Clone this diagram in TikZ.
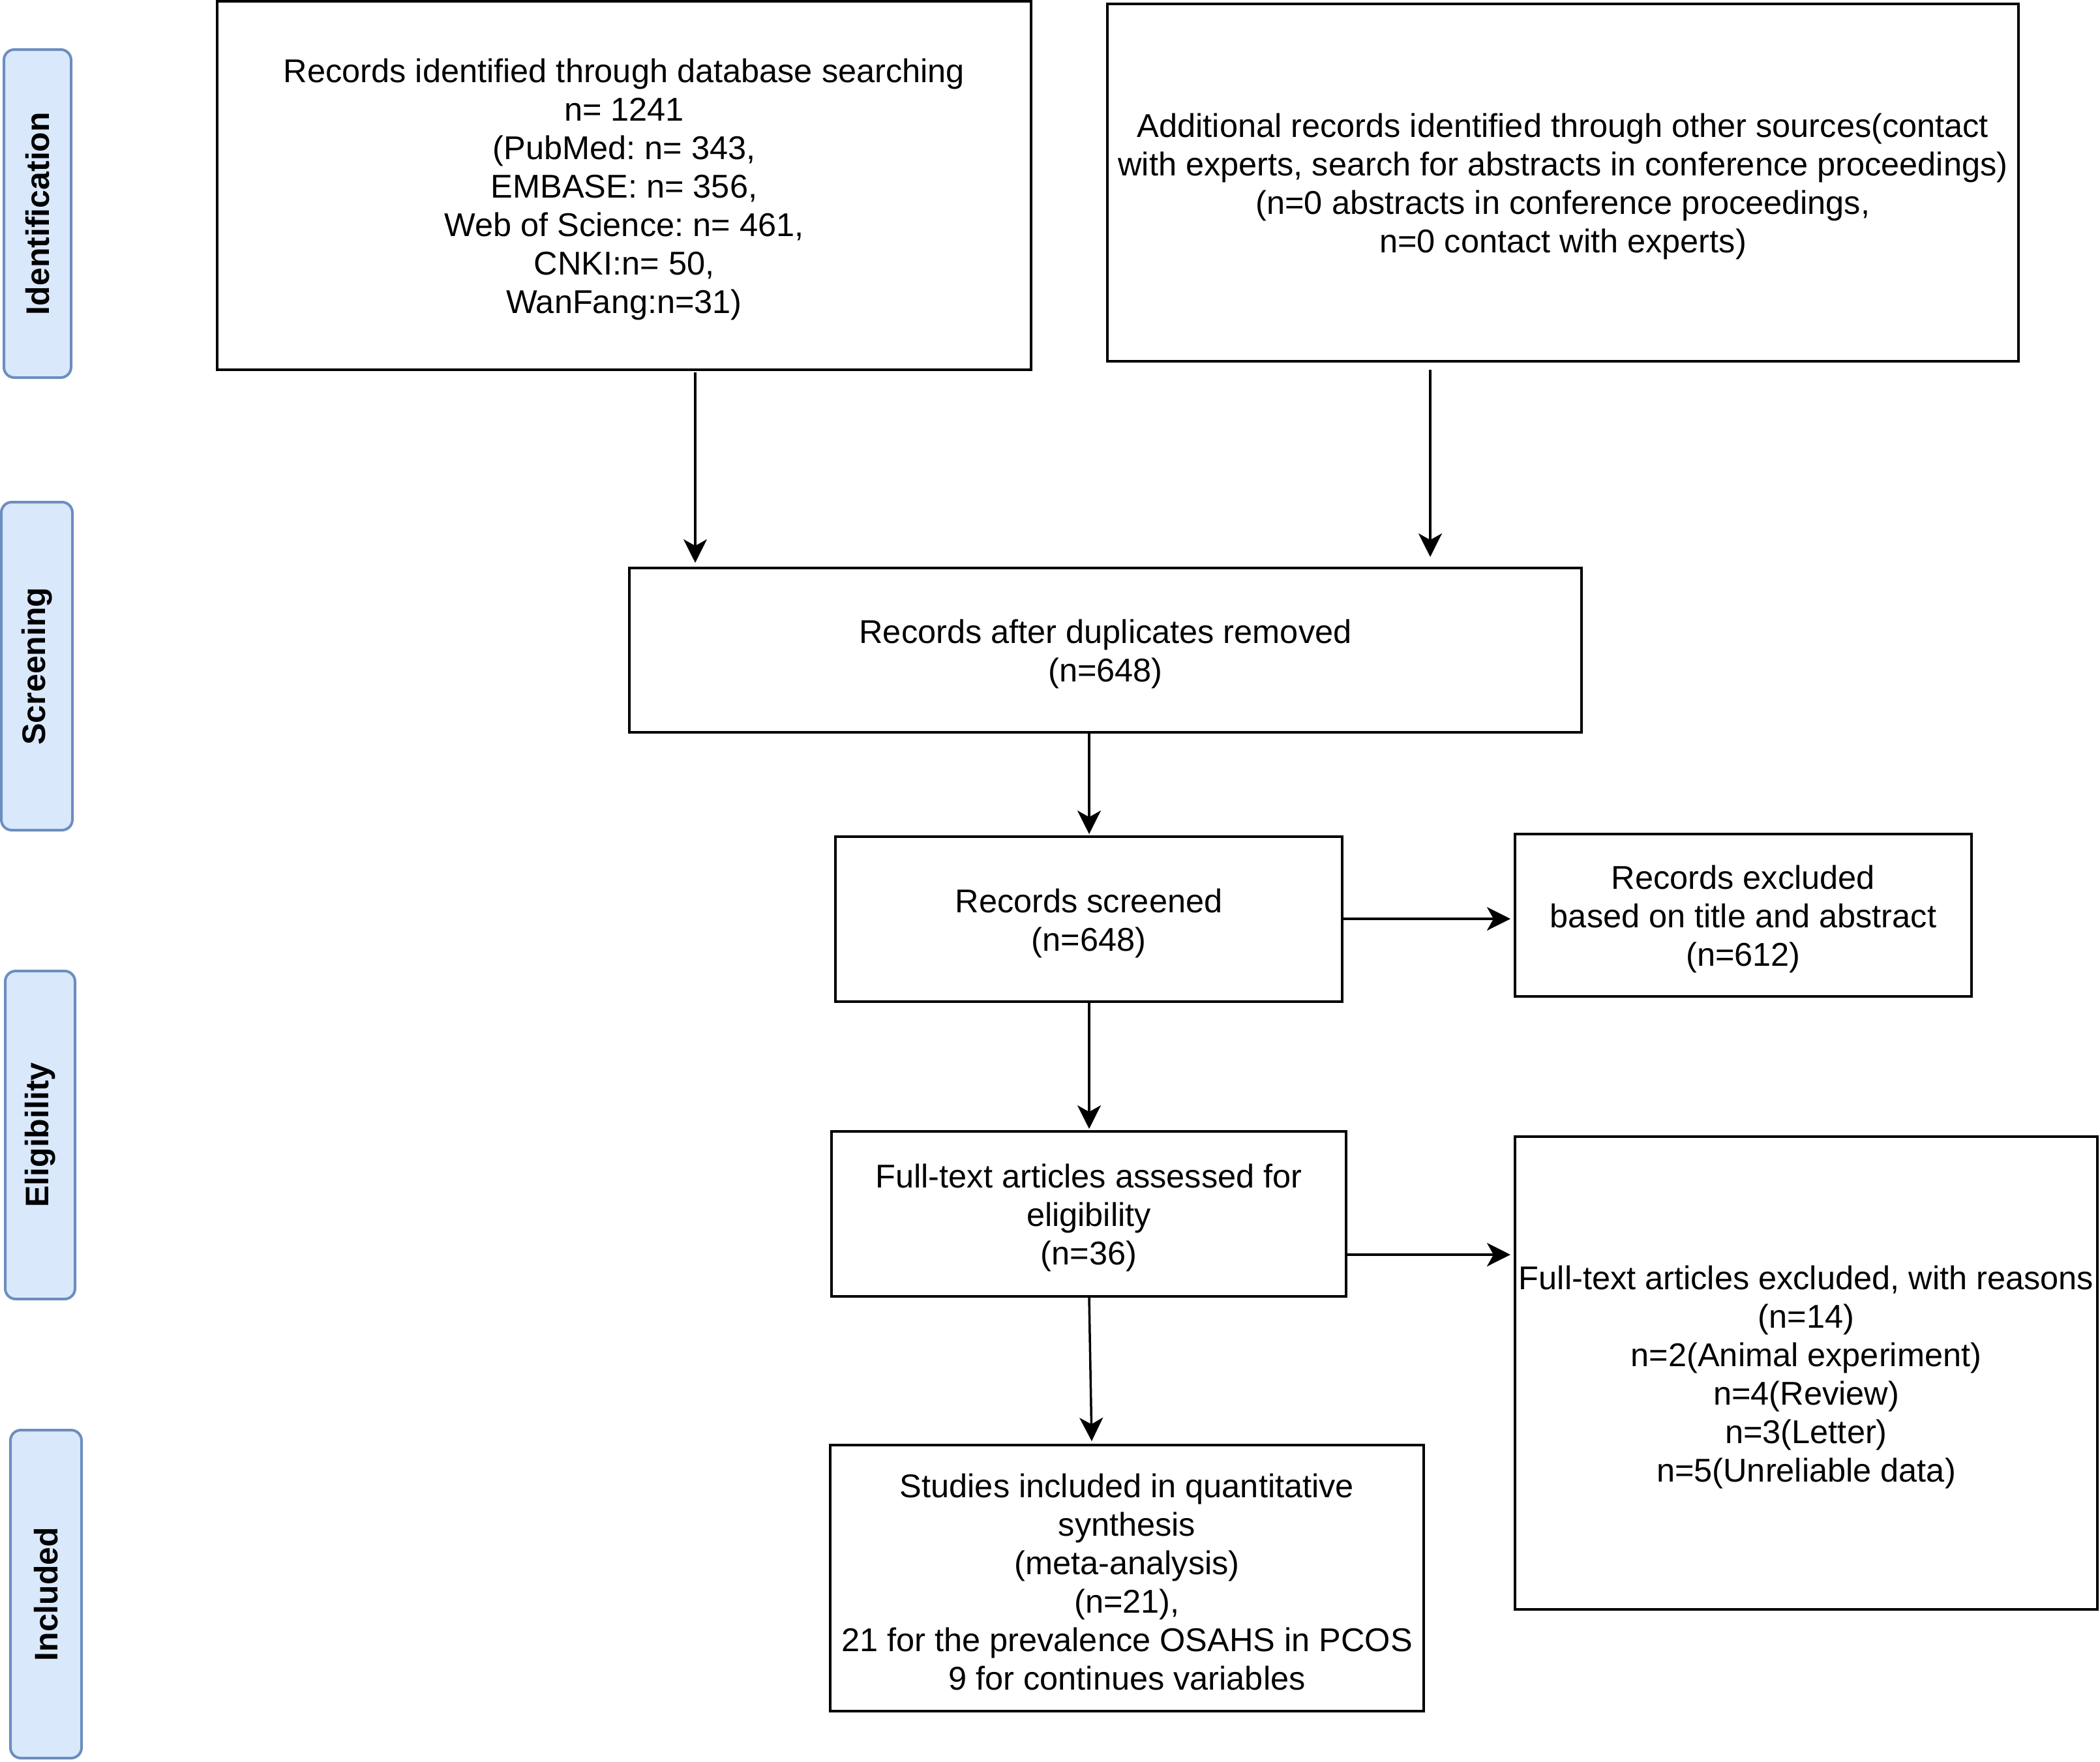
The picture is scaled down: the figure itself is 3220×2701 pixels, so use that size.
\documentclass[tikz,border=0pt]{standalone}
\usepackage{fontspec}
\setmainfont{Liberation Sans}
\usetikzlibrary{arrows.meta}
\definecolor{lblfill}{HTML}{DAE8FC}
\definecolor{lbldraw}{HTML}{6C8EBF}
\newcommand{\topstrut}{\rule{0pt}{49pt}}
\begin{document}
\frenchspacing
\begin{tikzpicture}[x=1pt,y=-1pt,
  boxnode/.style={draw=black,line width=4pt,rectangle,inner sep=0pt,align=center,
    font=\fontsize{50.5}{59}\selectfont},
  sidelab/.style={draw=lbldraw,fill=lblfill,line width=4pt,rounded corners=16pt,
    inner sep=0pt,align=center,rotate=90,font=\bfseries\fontsize{50}{59}\selectfont},
  arr/.style={draw=black,line width=3.5pt,-{Stealth[length=36pt,width=36pt,inset=10pt]}}]
\fill[white] (0,0) rectangle (3220,2701);
\useasboundingbox (0,0) rectangle (3220,2701);

% phase labels
\node[sidelab,minimum width=503pt,minimum height=103pt] (lab1) at (57.5,327.5) {Identification};
\node[sidelab,minimum width=503pt,minimum height=109pt] (lab2) at (56.5,1021.5) {Screening};
\node[sidelab,minimum width=503pt,minimum height=107pt] (lab3) at (61.5,1740.5) {Eligibility};
\node[sidelab,minimum width=503pt,minimum height=109pt] (lab4) at (70.5,2444.5) {Included};

% boxes
\node[boxnode,minimum width=1248pt,minimum height=565pt] (box1) at (957,284.5)
  {\topstrut Records identified through database searching\\n= 1241\\(PubMed: n= 343,\\EMBASE: n= 356,\\Web of Science: n= 461,\\CNKI:n= 50,\\WanFang:n=31)};
\node[boxnode,minimum width=1397pt,minimum height=548pt] (box2) at (2396.5,280)
  {\topstrut Additional records identified through other sources(contact\\with experts, search for abstracts in conference proceedings)\\(n=0 abstracts in conference proceedings,\\n=0 contact with experts)};
\node[boxnode,minimum width=1460pt,minimum height=252pt] (box3) at (1695,997)
  {\topstrut Records after duplicates removed\\(n=648)};
\node[boxnode,minimum width=777pt,minimum height=253pt] (box4) at (1669.5,1409.5)
  {\topstrut Records screened\\(n=648)};
\node[boxnode,minimum width=700pt,minimum height=249pt] (box5) at (2673,1403.5)
  {\topstrut Records excluded\\based on title and abstract\\(n=612)};
\node[boxnode,minimum width=789pt,minimum height=253pt] (box6) at (1669.5,1861.5)
  {\topstrut Full-text articles assessed for\\eligibility\\(n=36)};
\node[boxnode,minimum width=893pt,minimum height=725pt] (box7) at (2769.5,2105.5)
  {\topstrut Full-text articles excluded, with reasons\\(n=14)\\n=2(Animal experiment)\\n=4(Review)\\n=3(Letter)\\n=5(Unreliable data)};
\node[boxnode,minimum width=910pt,minimum height=408pt] (box8) at (1728,2420)
  {\topstrut Studies included in quantitative\\synthesis\\(meta-analysis)\\(n=21),\\21 for the prevalence OSAHS in PCOS\\9 for continues variables};

% connector guide coordinates
\coordinate (c1) at (1066,0);
\coordinate (c2) at (2193,0);
\coordinate (c3) at (1670,0);
\coordinate (c4) at (1674,0);
\coordinate (r1) at (0,1409);
\coordinate (r2) at (0,1924);

% connectors
\draw[arr,shorten <=2pt,shorten >=6pt] (box1.south -| c1) -- (box3.north -| c1);
\draw[arr,shorten <=11pt,shorten >=15pt] (box2.south -| c2) -- (box3.north -| c2);
\draw[arr,shorten >=2pt] (box3.south -| c3) -- (box4.north -| c3);
\draw[arr,shorten >=5pt] (box4.east |- r1) -- (box5.west |- r1);
\draw[arr,shorten >=2pt] (box4.south -| c3) -- (box6.north -| c3);
\draw[arr,shorten >=5pt] (box6.east |- r2) -- (box7.west |- r2);
\draw[arr,shorten >=4pt] (box6.south -| c3) -- (box8.north -| c4);
\end{tikzpicture}
\end{document}
